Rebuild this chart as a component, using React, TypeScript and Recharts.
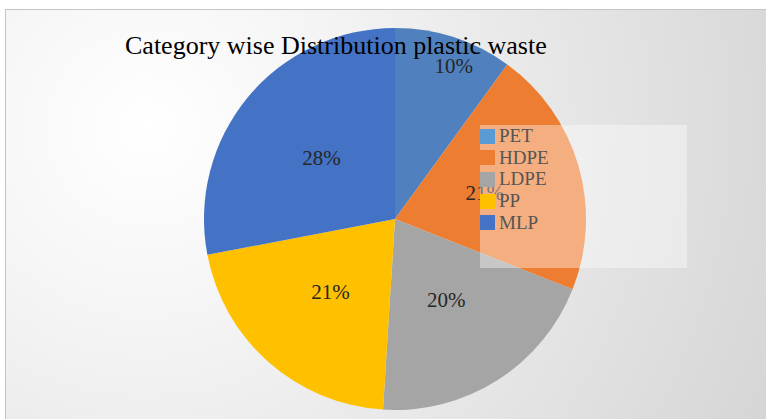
import React from "react";
import { PieChart, Pie, Cell } from "recharts";

const categories = ["PET", "HDPE", "LDPE", "PP", "MLP"];
const shares = [10, 21, 20, 21, 28];
const sliceColors = ["#5081BE", "#ED7D31", "#A5A5A5", "#FFC000", "#4472C4"];
const legendColors = ["#5B9BD5", "#ED7D31", "#A5A5A5", "#FFC000", "#4472C4"];
// label placement (fraction of radius, angle nudge in degrees) — PET label sits out near the rim
const labelRadius = [0.86, 0.49, 0.5, 0.51, 0.5];
const labelNudge = [-3, 0, 0, 0, 0];

const data = categories.map((name, i) => ({ name, value: shares[i] }));

const FONT = "'Liberation Serif', 'Times New Roman', serif";
const RAD = Math.PI / 180;

function renderLabel(props: any) {
  const { cx, cy, midAngle, outerRadius, index, value } = props;
  const a = (midAngle + labelNudge[index]) * RAD;
  const r = outerRadius * labelRadius[index];
  const x = cx + r * Math.cos(a);
  const y = cy - r * Math.sin(a);
  return (
    <text
      x={x}
      y={y + 7}
      textAnchor="middle"
      fontFamily="Liberation Serif"
      style={{ fontFamily: FONT, fontSize: 21, fill: "#262626" }}
    >
      {value}%
    </text>
  );
}

export default function App() {
  return (
    <div style={{ position: "absolute", left: 0, top: 0, width: 766, height: 419, background: "#fff", overflow: "hidden" }}>
      <div
        style={{
          position: "absolute",
          left: 5,
          top: 9,
          width: 780,
          height: 420,
          border: "1px solid #c4c4c4",
          background: "radial-gradient(circle farthest-corner at 18% 28%, #ffffff 0%, #f6f6f6 24%, #d4d4d4 100%)",
        }}
      />
      <div style={{ position: "absolute", left: 0, top: 0 }}>
        <PieChart width={766} height={419} margin={{ top: 0, right: 0, bottom: 0, left: 0 }}>
          <Pie
            data={data}
            dataKey="value"
            nameKey="name"
            cx={395}
            cy={219}
            outerRadius={191}
            startAngle={90}
            endAngle={-270}
            stroke="none"
            label={renderLabel}
            labelLine={false}
            isAnimationActive={false}
          >
            {data.map((d, i) => (
              <Cell key={d.name} fill={sliceColors[i]} />
            ))}
          </Pie>
        </PieChart>
      </div>
      <div
        style={{
          position: "absolute",
          left: 125,
          top: 31,
          fontFamily: FONT,
          fontSize: 26,
          color: "#000",
          whiteSpace: "nowrap",
          lineHeight: "30px",
        }}
      >
        Category wise Distribution plastic waste
      </div>
      <div
        style={{
          position: "absolute",
          left: 480,
          top: 125,
          width: 207,
          height: 143,
          background: "rgba(255,255,255,0.38)",
        }}
      >
        {categories.map((c, i) => (
          <div key={c} style={{ position: "absolute", left: 0, top: 1 + i * 21.7, height: 20, display: "flex", alignItems: "center" }}>
            <div style={{ width: 15, height: 15, background: legendColors[i] }} />
            <span style={{ marginLeft: 4, fontFamily: FONT, fontSize: 19, color: "#555555", lineHeight: "20px" }}>{c}</span>
          </div>
        ))}
      </div>
    </div>
  );
}
